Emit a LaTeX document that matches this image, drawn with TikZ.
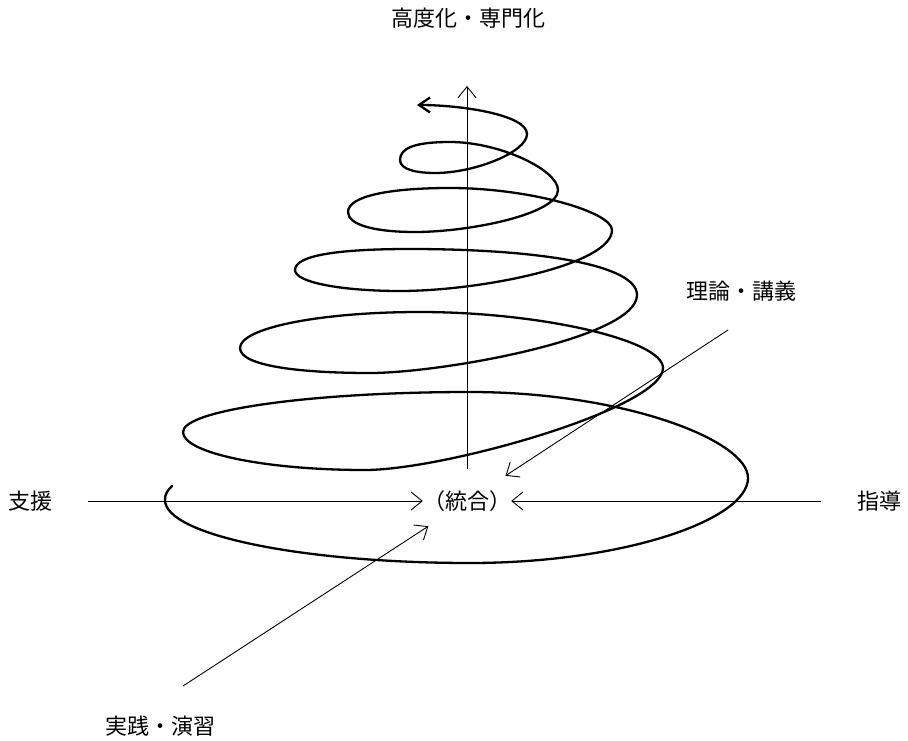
\documentclass[tikz,border=0pt]{standalone}
\usepackage{fontspec}
\setmainfont{Noto Sans CJK JP}
\usetikzlibrary{arrows.meta}
\begin{document}
\begin{tikzpicture}[x=1pt,y=-1pt,
  lbl/.style={font=\fontsize{22pt}{26pt}\selectfont, inner sep=0pt},
  thinline/.style={line width=0.9pt},
  barb/.style={-{Straight Barb[length=11pt,width=18pt,line width=0.9pt]}},
  coil/.style={line width=2.3pt, line cap=round, line join=round}]
\fill[white] (0,0) rectangle (908,741);
\useasboundingbox (0,0) rectangle (908,741);

% labels
\node[lbl] (top) at (468,18) {高度化・専門化};
\node[lbl] (shien) at (31,501) {支援};
\node[lbl] (shido) at (879,501) {指導};
\node[lbl] (riron) at (741,291) {理論・講義};
\node[lbl] (jissen) at (160,726) {実践・演習};
\node[lbl, text height=18pt, text depth=2pt, inner ysep=15pt] (togo) at (467,501) {（統合）};

% spiral
\draw[coil, -{Straight Barb[length=11pt,width=15pt]}]
 (172,486) .. controls (167,491) and (165,494) .. (165,500)
 .. controls (165,535) and (302,563) .. (470,563)
 .. controls (623,563) and (748,520) .. (748,478)
 .. controls (748,440) and (623,392) .. (470,392)
 .. controls (312,392) and (183,410) .. (183,432)
 .. controls (183,453) and (265,470) .. (365,470)
 .. controls (445,470) and (663,408) .. (663,368)
 .. controls (663,340) and (540,312) .. (420,312)
 .. controls (320,312) and (240,328) .. (240,348)
 .. controls (240,366) and (300,373) .. (370,373)
 .. controls (442,373) and (637,338) .. (637,295)
 .. controls (637,265) and (540,249) .. (410,249)
 .. controls (340,249) and (295,255) .. (295,270)
 .. controls (295,283) and (345,291) .. (400,291)
 .. controls (480,291) and (612,265) .. (612,230)
 .. controls (612,212) and (530,188) .. (450,188)
 .. controls (390,188) and (348,196) .. (348,212)
 .. controls (348,225) and (375,232) .. (415,232)
 .. controls (470,232) and (558,214) .. (558,190)
 .. controls (558,170) and (500,142) .. (450,142)
 .. controls (415,142) and (400,148) .. (400,160)
 .. controls (400,170) and (418,173) .. (435,173)
 .. controls (475,173) and (527,152) .. (527,134)
 .. controls (527,115) and (462,105) .. (417,105);

% connectors
\coordinate (sStart) at (88,501);
\coordinate (dStart) at (821,501);
\coordinate (rStart) at (728,330);
\coordinate (jStart) at (183,686);
\coordinate (vTop) at (467,86);
\draw[thinline,barb] (sStart) -- (togo.west);
\draw[thinline,barb] (dStart) -- (togo.east);
\draw[thinline,barb] (rStart) -- (togo);
\draw[thinline,barb] (jStart) -- (togo);
\draw[thinline,barb] ([yshift=7pt]togo.north) -- (vTop);
\end{tikzpicture}
\end{document}
